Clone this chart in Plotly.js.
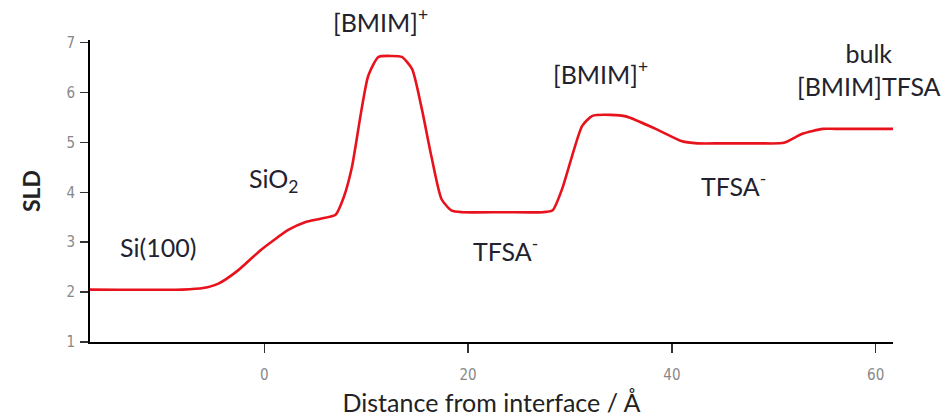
<!DOCTYPE html>
<html>
<head>
<meta charset="utf-8">
<script src="https://cdn.plot.ly/plotly-3.0.1.min.js"></script>
<style>html,body{margin:0;padding:0;background:#fff}#chart{width:948px;height:418px}</style>
</head>
<body>
<div id="chart"></div>
<script>
// Distance from interface (Å)
const distance = [-17.1, -8, -6, -4.5, -2.6, -0.3, 2.4, 4.0, 5.5, 7.0, 7.8, 8.6, 9.5, 10.2, 11.2, 12.5, 13.5, 14.5, 15.4, 16.4, 17.4, 18.4, 19.5, 23.5, 27.3, 28.3, 29.2, 30.2, 31.2, 32.2, 34, 35.5, 38.4, 41, 42.5, 45, 48.5, 51, 52.8, 54.8, 56, 58.5, 61.7];
// SLD profile
const sld = [2.05, 2.05, 2.08, 2.17, 2.43, 2.85, 3.25, 3.4, 3.47, 3.55, 3.9, 4.5, 5.6, 6.33, 6.71, 6.73, 6.71, 6.47, 5.73, 4.72, 3.86, 3.63, 3.6, 3.6, 3.6, 3.64, 4.05, 4.72, 5.33, 5.53, 5.55, 5.52, 5.27, 5.02, 4.98, 4.98, 4.98, 4.99, 5.17, 5.27, 5.27, 5.27, 5.27];

const xTicks = [0, 20, 40, 60];
const yTicks = [1, 2, 3, 4, 5, 6, 7];

const labelTexts = ["Si(100)", "SiO<sub>2</sub>", "[BMIM]<sup>+</sup>", "TFSA<sup>-</sup>", "[BMIM]<sup>+</sup>", "TFSA<sup>-</sup>", "bulk<br>[BMIM]TFSA"];
const labelX = [-10.4, 0.9, 11.4, 23.7, 33.0, 46.0, 59.3];
const labelY = [2.9, 4.25, 1.066, 2.85, 6.4, 4.15, 6.45];
const labelYref = ['y', 'y', 'paper', 'y', 'y', 'y', 'y'];

const font = "Lato, 'Open Sans', sans-serif";
const annotations = labelTexts.map((t, i) => ({
  x: labelX[i], y: labelY[i], xref: 'x', yref: labelYref[i], text: t, showarrow: false,
  xanchor: 'center', yanchor: 'middle',
  font: {family: font, size: 25, color: '#22222e'}, align: 'center'
}));

Plotly.newPlot('chart', [{
  x: distance, y: sld, type: 'scatter', mode: 'lines',
  line: {color: '#e8121c', width: 2.6, shape: 'spline', smoothing: 0.6},
  hoverinfo: 'skip'
}], {
  width: 948, height: 418,
  margin: {l: 90, r: 55, t: 40, b: 76},
  paper_bgcolor: '#fff', plot_bgcolor: '#fff',
  showlegend: false,
  xaxis: {
    range: [-17.1, 61.7], tickvals: xTicks, ticktext: xTicks.map(String),
    showgrid: false, zeroline: false, showline: true, linecolor: '#000', linewidth: 2,
    ticks: 'outside', ticklen: 9, tickwidth: 1.5, tickcolor: '#333',
    ticklabelstandoff: 9,
    tickfont: {family: "'Liberation Sans Narrow', 'DejaVu Sans Condensed', sans-serif", size: 15, color: '#888'},
    title: {text: 'Distance from interface / Å', font: {family: font, size: 25, color: '#222'}, standoff: 11}
  },
  yaxis: {
    range: [1, 7.05], tickvals: yTicks, ticktext: yTicks.map(String),
    showgrid: false, zeroline: false, showline: true, linecolor: '#000', linewidth: 2,
    ticks: 'outside', ticklen: 8, tickwidth: 1.5, tickcolor: '#333',
    ticklabelstandoff: 2,
    tickfont: {family: "'Liberation Sans Narrow', 'DejaVu Sans Condensed', sans-serif", size: 15, color: '#888'},
    title: {text: '<b>SLD</b>', font: {family: font, size: 23, color: '#222'}, standoff: 19}
  },
  annotations: annotations
}, {staticPlot: true});
</script>
</body>
</html>
